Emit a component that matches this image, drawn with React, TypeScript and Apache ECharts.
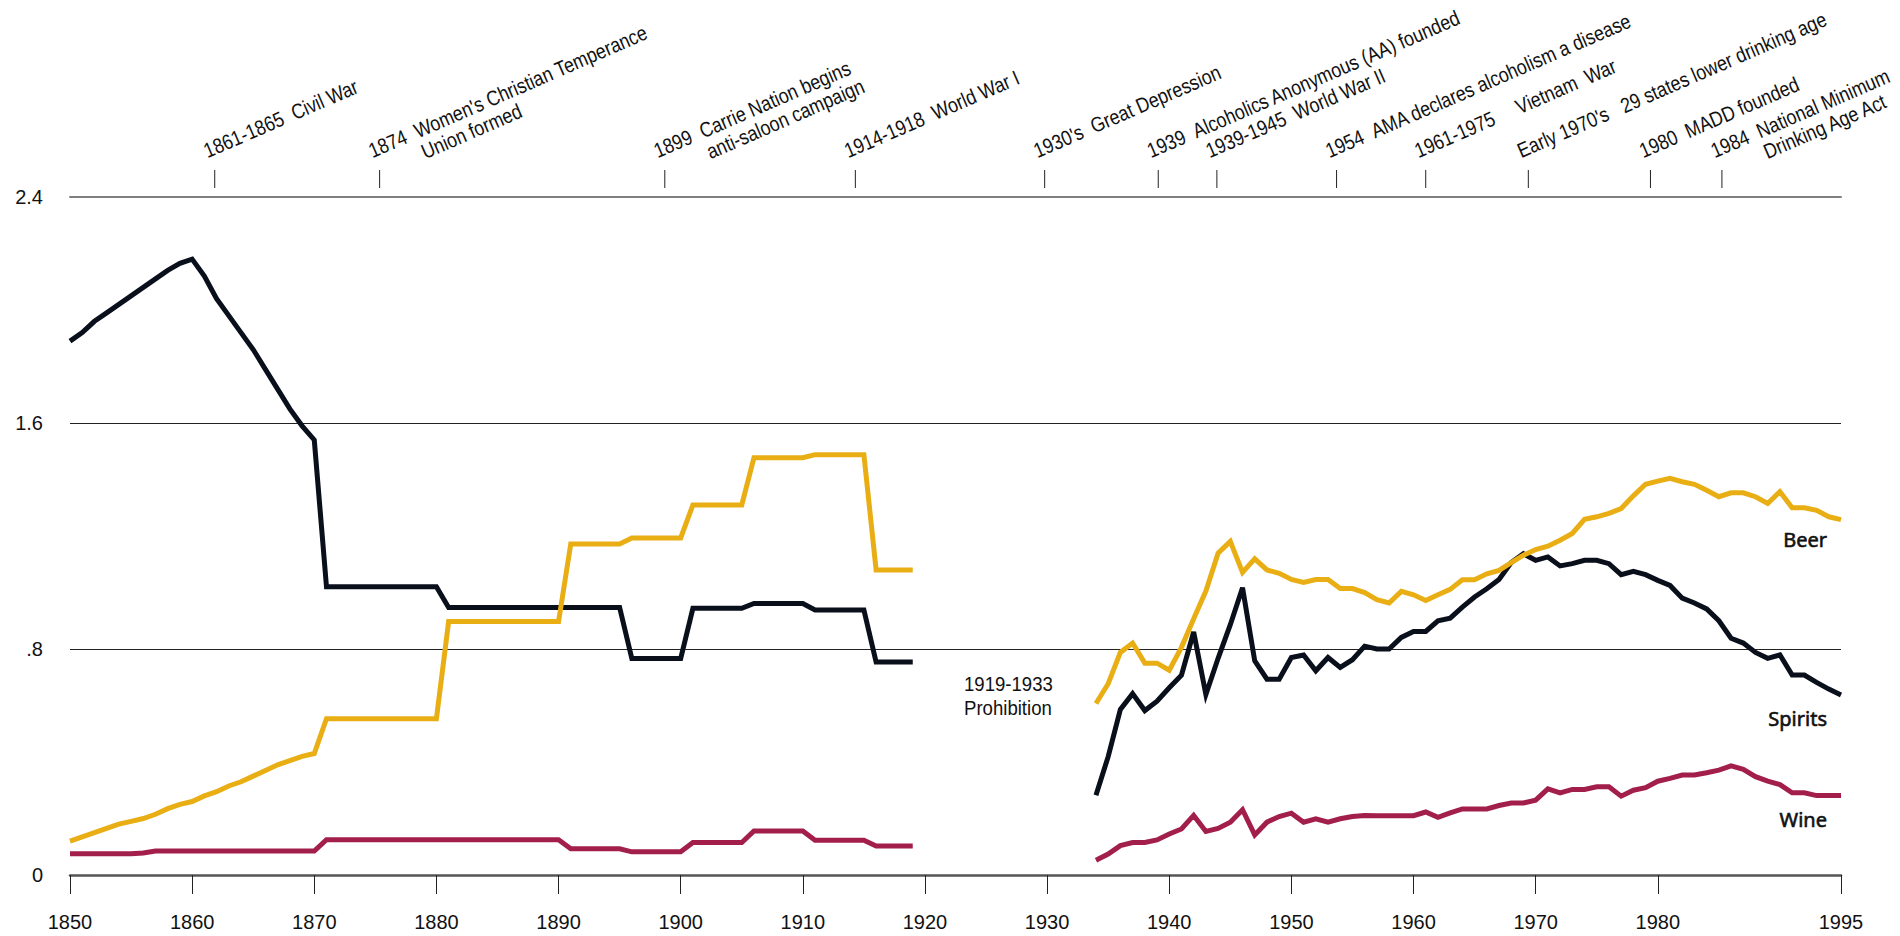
import { useEffect, useRef } from "react";
import * as echarts from "echarts";

// ---------- data ----------
const EARLY_START = 1850; // 1850..1919
const LATE_START = 1934; // 1934..1995

const spiritsEarly = [
  1.89, 1.92, 1.96, 1.99, 2.02, 2.05, 2.08, 2.11, 2.14, 2.165, 2.18,
  2.12, 2.04, 1.98, 1.92, 1.86, 1.79, 1.72, 1.65, 1.59, 1.54,
  1.02, 1.02, 1.02, 1.02, 1.02, 1.02, 1.02, 1.02, 1.02, 1.02,
  0.947, 0.947, 0.947, 0.947, 0.947, 0.947, 0.947, 0.947, 0.947, 0.947,
  0.947, 0.947, 0.947, 0.947, 0.947,
  0.766, 0.766, 0.766, 0.766, 0.766,
  0.944, 0.944, 0.944, 0.944, 0.944,
  0.961, 0.961, 0.961, 0.961, 0.961,
  0.938, 0.938, 0.938, 0.938, 0.938,
  0.754, 0.754, 0.754, 0.754,
];

const beerEarly = [
  0.12, 0.135, 0.15, 0.165, 0.18, 0.19, 0.2, 0.215, 0.235, 0.25, 0.26,
  0.28, 0.295, 0.315, 0.33, 0.35, 0.37, 0.39, 0.405, 0.42, 0.43,
  0.553, 0.553, 0.553, 0.553, 0.553, 0.553, 0.553, 0.553, 0.553, 0.553,
  0.897, 0.897, 0.897, 0.897, 0.897, 0.897, 0.897, 0.897, 0.897, 0.897,
  1.172, 1.172, 1.172, 1.172, 1.172,
  1.193, 1.193, 1.193, 1.193, 1.193,
  1.31, 1.31, 1.31, 1.31, 1.31,
  1.477, 1.477, 1.477, 1.477, 1.477,
  1.488, 1.488, 1.488, 1.488, 1.488,
  1.08, 1.08, 1.08, 1.08,
];

const wineEarly = [
  0.075, 0.075, 0.075, 0.075, 0.075, 0.075, 0.078,
  0.085, 0.085, 0.085, 0.085, 0.085, 0.085, 0.085, 0.085, 0.085, 0.085,
  0.085, 0.085, 0.085, 0.085,
  0.125, 0.125, 0.125, 0.125, 0.125, 0.125, 0.125, 0.125, 0.125, 0.125,
  0.125, 0.125, 0.125, 0.125, 0.125, 0.125, 0.125, 0.125, 0.125, 0.125,
  0.093, 0.093, 0.093, 0.093, 0.093,
  0.082, 0.082, 0.082, 0.082, 0.082,
  0.115, 0.115, 0.115, 0.115, 0.115,
  0.156, 0.156, 0.156, 0.156, 0.156,
  0.123, 0.123, 0.123, 0.123, 0.123,
  0.103, 0.103, 0.103, 0.103,
];

const beerLate = [
  0.607, 0.677, 0.788, 0.821, 0.75, 0.75, 0.725, 0.806, 0.907, 1.005,
  1.139, 1.181, 1.071, 1.119, 1.08, 1.068, 1.046, 1.036, 1.046, 1.046,
  1.014, 1.014, 1.0, 0.975, 0.963, 1.004, 0.992, 0.972, 0.992, 1.011,
  1.045, 1.045, 1.066, 1.078, 1.106, 1.132, 1.152, 1.164, 1.185, 1.209,
  1.259, 1.268, 1.28, 1.297, 1.342, 1.383, 1.394, 1.404, 1.392, 1.383,
  1.362, 1.339, 1.353, 1.353, 1.339, 1.315, 1.357, 1.3, 1.3, 1.291,
  1.268, 1.258,
];

const spiritsLate = [
  0.282, 0.419, 0.586, 0.642, 0.582, 0.615, 0.663, 0.707, 0.86, 0.639,
  0.767, 0.886, 1.017, 0.758, 0.693, 0.693, 0.77, 0.779, 0.723, 0.77,
  0.735, 0.762, 0.81, 0.8, 0.8, 0.841, 0.862, 0.862, 0.9, 0.909,
  0.948, 0.984, 1.013, 1.046, 1.106, 1.137, 1.114, 1.126, 1.094, 1.102,
  1.114, 1.114, 1.102, 1.063, 1.075, 1.063, 1.043, 1.025, 0.98, 0.963,
  0.942, 0.9, 0.838, 0.821, 0.788, 0.767, 0.779, 0.708, 0.708, 0.682,
  0.658, 0.637,
];

const wineLate = [
  0.052, 0.074, 0.104, 0.115, 0.115, 0.124, 0.145, 0.163, 0.211, 0.154,
  0.165, 0.187, 0.231, 0.142, 0.187, 0.207, 0.219, 0.187, 0.199, 0.187,
  0.199, 0.207, 0.211, 0.21, 0.21, 0.21, 0.21, 0.223, 0.204, 0.22,
  0.234, 0.234, 0.234, 0.246, 0.255, 0.255, 0.265, 0.305, 0.291, 0.303,
  0.303, 0.312, 0.312, 0.279, 0.3, 0.309, 0.332, 0.342, 0.354, 0.354,
  0.362, 0.371, 0.386, 0.374, 0.348, 0.332, 0.32, 0.291, 0.291, 0.281,
  0.281, 0.281,
];

const xTickYears = [1850, 1860, 1870, 1880, 1890, 1900, 1910, 1920, 1930, 1940, 1950, 1960, 1970, 1980, 1995];

const eventYears = [1861.85, 1875.35, 1898.7, 1914.3, 1929.8, 1939.1, 1943.9, 1953.7, 1961.0, 1969.4, 1979.4, 1985.25];
const NB = "\u00A0";
const eventLabels: string[][] = [
  [`1861-1865${NB}${NB}Civil War`],
  [`1874${NB}${NB}Women's Christian Temperance`, "Union formed"],
  [`1899${NB}${NB}Carrie Nation begins`, "anti-saloon campaign"],
  [`1914-1918${NB}${NB}World War I`],
  [`1930's${NB}${NB}Great Depression`],
  [`1939${NB}${NB}Alcoholics Anonymous (AA) founded`],
  [`1939-1945${NB}${NB}World War II`],
  [`1954${NB}${NB}AMA declares alcoholism a disease`],
  [`1961-1975${NB}${NB}${NB}${NB}${NB}Vietnam${NB}${NB}War`],
  [`Early 1970's${NB}${NB}${NB}29 states lower drinking age`],
  [`1980${NB}${NB}MADD founded`],
  [`1984${NB}${NB}National Minimum`, "Drinking Age Act"],
];

// ---------- styles ----------
const FONT = "'Liberation Sans', Arial, Helvetica, sans-serif";
const LABEL_FONT = "'Noto Sans', 'Liberation Sans', sans-serif";
const BEER = "#E8AE14";
const SPIRITS = "#0a0f1c";
const WINE = "#A31F4B";
const ANGLE = (23.5 * Math.PI) / 180;

function toPairs(start: number, vals: number[]) {
  return vals.map((v, i) => [start + i, v]);
}

function lineSeries(name: string, start: number, vals: number[], color: string) {
  return {
    name,
    type: "line",
    data: toPairs(start, vals),
    showSymbol: false,
    symbol: "none",
    silent: true,
    lineStyle: { color, width: 5, join: "miter", cap: "butt" },
    itemStyle: { color },
  };
}

function seriesLabel(text: string, x: number, y: number) {
  return {
    type: "text",
    x,
    y,
    style: {
      text,
      fontSize: 20,
      fontFamily: LABEL_FONT,
      fill: "#111",
      stroke: "#111",
      lineWidth: 0.6,
      align: "right",
      verticalAlign: "middle",
    },
  };
}

export default function App() {
  const ref = useRef<HTMLDivElement>(null);

  useEffect(() => {
    if (!ref.current) return;
    const chart = echarts.init(ref.current, undefined, { renderer: "svg" });

    const option: any = {
      animation: false,
      backgroundColor: "#ffffff",
      grid: { left: 70, right: 59, top: 197, bottom: 61, containLabel: false },
      xAxis: [
        {
          type: "value",
          min: 1850,
          max: 1995,
          interval: 10,
          axisLine: { show: true, onZero: false, lineStyle: { color: "#555555", width: 2.5 } },
          axisTick: { show: true, customValues: xTickYears, length: 19, lineStyle: { color: "#222", width: 1 } },
          axisLabel: {
            customValues: xTickYears,
            margin: 37,
            fontSize: 20,
            fontFamily: FONT,
            color: "#111",
            formatter: (v: number) => String(v),
          },
          splitLine: { show: false },
        },
        {
          type: "value",
          position: "top",
          min: 1850,
          max: 1995,
          axisLine: { show: true, onZero: false, lineStyle: { color: "#7f7f7f", width: 2 } },
          axisTick: { show: false },
          axisLabel: { show: false },
          splitLine: { show: false },
        },
      ],
      yAxis: {
        type: "value",
        min: 0,
        max: 2.4,
        interval: 0.8,
        axisLine: { show: false },
        axisTick: { show: false },
        axisLabel: {
          margin: 27,
          fontSize: 20,
          fontFamily: FONT,
          color: "#111",
          formatter: (v: number) => {
            const r = Number(v.toFixed(1));
            if (r === 0) return "0";
            if (r < 1) return String(r).replace(/^0/, "");
            return r.toFixed(1);
          },
        },
        splitLine: { show: true, showMinLine: false, showMaxLine: false, lineStyle: { color: "#222", width: 1 } },
      },
      series: [
        lineSeries("Wine", EARLY_START, wineEarly, WINE),
        lineSeries("Wine", LATE_START, wineLate, WINE),
        lineSeries("Spirits", EARLY_START, spiritsEarly, SPIRITS),
        lineSeries("Spirits", LATE_START, spiritsLate, SPIRITS),
        lineSeries("Beer", EARLY_START, beerEarly, BEER),
        lineSeries("Beer", LATE_START, beerLate, BEER),
        {
          type: "custom",
          clip: false,
          silent: true,
          data: eventYears.map((y) => [y, 2.4]),
          renderItem: (params: any, api: any) => {
            const i = params.dataIndex;
            const pt = api.coord([api.value(0), 2.4]);
            const px = pt[0];
            const py = pt[1];
            const lines = eventLabels[i];
            const texts = lines.map((t, j) => ({
              type: "text",
              x: j === 0 ? 0 : 48,
              y: j * 22,
              scaleX: 0.85,
              style: {
                text: t,
                fontSize: 21,
                fontFamily: FONT,
                fill: "#111",
                align: "left",
                verticalAlign: "bottom",
              },
            }));
            return {
              type: "group",
              children: [
                {
                  type: "line",
                  shape: { x1: px, y1: py - 27, x2: px, y2: py - 9 },
                  style: { stroke: "#222", lineWidth: 1 },
                },
                {
                  type: "group",
                  x: px - 6,
                  y: py - 36,
                  rotation: ANGLE,
                  children: texts,
                },
              ],
            };
          },
        },
      ],
      graphic: [
        {
          type: "text",
          x: 964,
          y: 672,
          scaleX: 0.93,
          style: {
            text: "1919-1933\nProhibition",
            fontSize: 20,
            lineHeight: 24,
            fontFamily: FONT,
            fill: "#111",
            align: "left",
            verticalAlign: "top",
          },
        },
        seriesLabel("Beer", 1827, 539),
        seriesLabel("Spirits", 1827, 718),
        seriesLabel("Wine", 1827, 819),
      ],
    };

    chart.setOption(option);
    return () => chart.dispose();
  }, []);

  return (
    <div
      ref={ref}
      style={{ position: "fixed", left: 0, top: 0, width: 1900, height: 936, background: "#fff" }}
    />
  );
}
